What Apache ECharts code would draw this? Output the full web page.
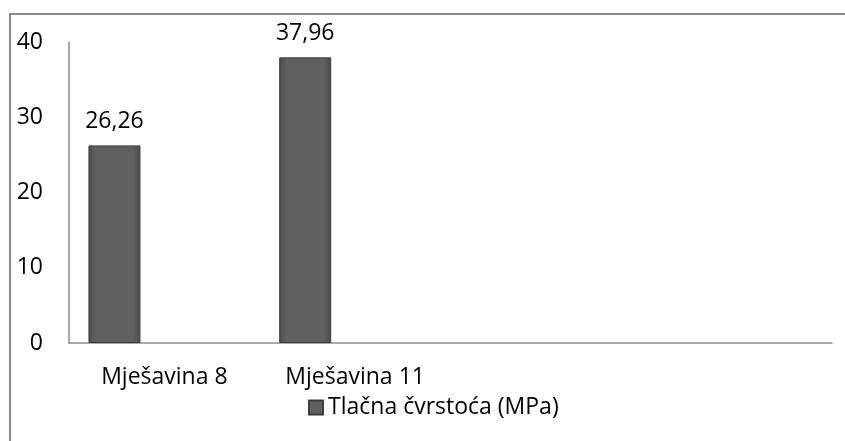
<!DOCTYPE html>
<html>
<head>
<meta charset="utf-8">
<script src="https://cdn.jsdelivr.net/npm/echarts@6/dist/echarts.min.js"></script>
<style>
  html, body { margin: 0; padding: 0; background: #fff; }
  #chart { width: 845px; height: 441px; }
</style>
</head>
<body>
<div id="chart"></div>
<script>
// data
const categories = ['Mješavina 8', 'Mješavina 11', '', '']
const strength = [26.26, 37.96, null, null]
const seriesName = 'Tlačna čvrstoća (MPa)'
const yTicks = { min: 0, max: 40, interval: 10 }

const font = '"Open Sans", sans-serif'
const fs = 23
const chart = echarts.init(document.getElementById('chart'))

chart.setOption({
  animation: false,
  backgroundColor: '#fff',
  textStyle: { fontFamily: font },
  graphic: [
    // frame: only top and left edges are visible in the reference
    { type: 'line', shape: { x1: 9, y1: 14, x2: 845, y2: 14 }, style: { stroke: '#8c8c8c', lineWidth: 2 } },
    { type: 'line', shape: { x1: 10, y1: 13, x2: 10, y2: 441 }, style: { stroke: '#8c8c8c', lineWidth: 2 } }
  ],
  grid: { left: 69, right: 13, top: 42, bottom: 98 },
  legend: {
    data: [seriesName],
    left: 303,
    top: 391,
    icon: 'rect',
    itemWidth: 14,
    itemHeight: 14,
    itemGap: 4,
    textStyle: { fontSize: fs, color: '#000', fontFamily: font }
  },
  xAxis: {
    type: 'category',
    data: categories,
    axisLine: { lineStyle: { color: '#8c8c8c', width: 1.5 } },
    axisTick: { show: false },
    axisLabel: { fontSize: fs, color: '#000', margin: 23, interval: 0 }
  },
  yAxis: {
    type: 'value',
    min: yTicks.min,
    max: yTicks.max,
    interval: yTicks.interval,
    axisLine: { show: true, lineStyle: { color: '#8c8c8c', width: 1.5 } },
    axisTick: { show: false },
    splitLine: { show: false },
    axisLabel: { fontSize: fs, color: '#000', margin: 26 }
  },
  series: [
    {
      name: seriesName,
      type: 'bar',
      data: strength,
      barWidth: 52,
      barGap: '-4%',
      itemStyle: {
        color: new echarts.graphic.LinearGradient(0, 0, 1, 0, [
          { offset: 0, color: '#4e4e4e' },
          { offset: 0.15, color: '#606060' },
          { offset: 0.85, color: '#606060' },
          { offset: 1, color: '#4a4a4a' }
        ]),
        borderColor: '#3c3c3c',
        borderWidth: 1
      },
      label: {
        show: true,
        position: 'top',
        distance: 12,
        fontSize: fs,
        color: '#000',
        formatter: p => p.value.toFixed(2).replace('.', ',')
      }
    },
    // empty series of the Excel cluster, they only shift the bar left
    { name: 's2', type: 'bar', data: [], barWidth: 52 },
    { name: 's3', type: 'bar', data: [], barWidth: 52 }
  ]
})
</script>
</body>
</html>
